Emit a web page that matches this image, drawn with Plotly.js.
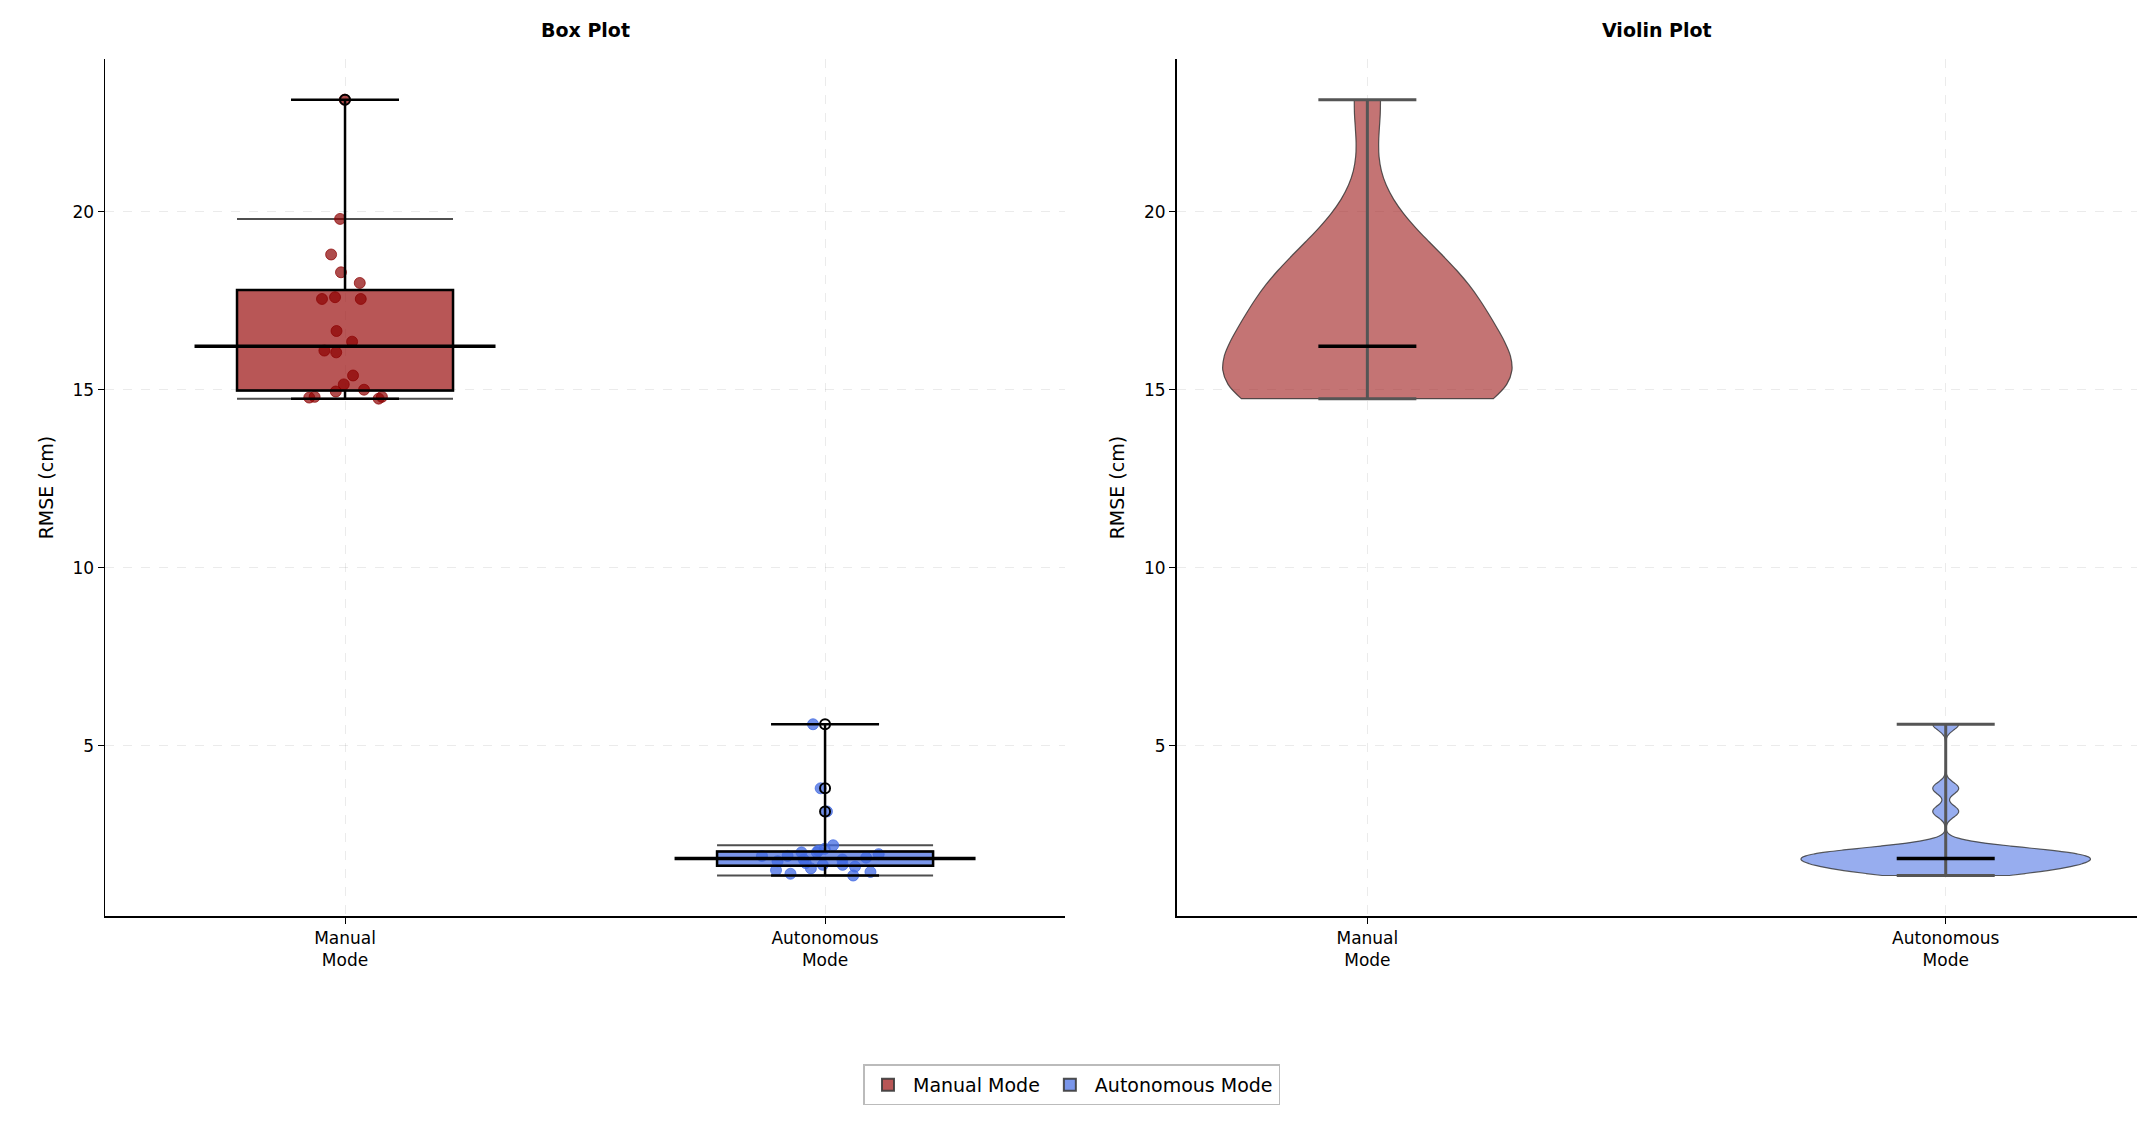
<!DOCTYPE html>
<html>
<head>
<meta charset="utf-8">
<script src="https://cdn.plot.ly/plotly-3.0.1.min.js"></script>
<style>html,body{margin:0;padding:0;background:#fff}#graph{width:2143px;height:1130px}</style>
</head>
<body>
<div id="graph"></div>
<script>
// RMSE per trial for each driving mode.
const categories = ["Manual<br>Mode", "Autonomous<br>Mode"];
const legendNames = ["Manual Mode", "Autonomous Mode"];

const manualRmse = [23.15, 19.8, 18.8, 18.3, 18.0, 17.6, 17.55, 17.55, 16.65, 16.35,
  16.1, 16.05, 15.4, 15.15, 15.0, 14.95, 14.8, 14.8, 14.78, 14.75];
const autoRmse = [5.6, 3.8, 3.15, 2.2, 2.1, 2.05, 2.0, 2.0, 1.95, 1.9, 1.9, 1.85,
  1.8, 1.8, 1.75, 1.7, 1.65, 1.65, 1.6, 1.55, 1.5, 1.45, 1.4, 1.35];

const boxFill = ["rgba(160,30,30,0.75)", "rgba(65,105,225,0.7)"];
const pointColor = ["rgba(139,0,0,0.7)", "rgba(65,105,225,0.75)"];
const violinFill = ["rgba(165,42,42,0.65)", "rgba(65,105,225,0.55)"];

const series = [manualRmse, autoRmse];
const FONT = "DejaVu Sans, sans-serif";

function median(arr) {
  const s = [...arr].sort((a, b) => a - b);
  const m = Math.floor(s.length / 2);
  return s.length % 2 ? s[m] : (s[m - 1] + s[m]) / 2;
}

const traces = [];

series.forEach((vals, i) => {
  const xs = vals.map(() => categories[i]);
  // box with jittered points
  traces.push({
    type: "box", x: xs, y: vals, xaxis: "x", yaxis: "y",
    name: legendNames[i], legendgroup: legendNames[i],
    fillcolor: boxFill[i], line: { color: "rgba(60,60,60,0.9)", width: 2 },
    whiskerwidth: 1, width: 0.45,
    boxpoints: "all", jitter: 0.6, pointpos: 0,
    marker: { color: pointColor[i], size: 11, line: { color: pointColor[i], width: 1 } },
    hoveron: "points"
  });
  // outliers as open circles on the centre line
  traces.push({
    type: "box", x: xs, y: vals, xaxis: "x", yaxis: "y",
    showlegend: false, legendgroup: legendNames[i],
    fillcolor: "rgba(0,0,0,0)", line: { color: "rgba(0,0,0,0)", width: 0 },
    width: 0.45, boxpoints: "outliers",
    marker: { symbol: "circle-open", color: "black", size: 10, line: { width: 2 } }
  });
  // median line drawn in black on the box
  traces.push({
    type: "scatter", mode: "markers", x: [categories[i]], y: [median(vals)],
    xaxis: "x", yaxis: "y", showlegend: false, hoverinfo: "skip",
    marker: { symbol: "line-ew", size: 215, line: { color: "black", width: 3.5 } }
  });
  // whisker caps in black
  traces.push({
    type: "box", x: xs, y: vals, xaxis: "x", yaxis: "y",
    showlegend: false, fillcolor: "rgba(0,0,0,0)",
    line: { color: "black", width: 2.5 }, whiskerwidth: 0.5, width: 0.45,
    boxpoints: false, hoverinfo: "skip", opacity: 1,
    marker: { opacity: 0 }
  });

  // violin
  traces.push({
    type: "violin", x: xs, y: vals, xaxis: "x2", yaxis: "y2",
    showlegend: false, fillcolor: violinFill[i],
    line: { color: "rgba(50,50,50,0.8)", width: 1.2 },
    spanmode: "hard", points: false, width: 0.5,
    box: { visible: false }, meanline: { visible: false }, hoverinfo: "skip"
  });
  const lo = Math.min(...vals), hi = Math.max(...vals);
  traces.push({
    type: "scatter", mode: "lines+markers", x: [categories[i], categories[i]], y: [lo, hi],
    xaxis: "x2", yaxis: "y2", showlegend: false, hoverinfo: "skip",
    line: { color: "#555", width: 3 },
    marker: { symbol: "line-ew", size: 70, line: { color: "#555", width: 3 } }
  });
  traces.push({
    type: "scatter", mode: "markers", x: [categories[i]], y: [median(vals)],
    xaxis: "x2", yaxis: "y2", showlegend: false, hoverinfo: "skip",
    marker: { symbol: "line-ew", size: 70, line: { color: "black", width: 3.5 } }
  });
});

const axisCommon = {
  showline: true, linecolor: "black", linewidth: 1.5, mirror: false,
  ticks: "outside", tickcolor: "black", ticklen: 6,
  tickfont: { size: 17, family: FONT, color: "black" },
  showgrid: true, gridcolor: "rgba(0,0,0,0.08)", griddash: "dash", zeroline: false
};

const layout = {
  width: 2143, height: 1130,
  paper_bgcolor: "white", plot_bgcolor: "white",
  font: { family: FONT, color: "black" },
  boxmode: "overlay", violinmode: "overlay",
  margin: { l: 0, r: 0, t: 0, b: 0 },
  xaxis: Object.assign({}, axisCommon, {
    domain: [0.049, 0.497], anchor: "y", type: "category",
    categoryorder: "array", categoryarray: categories, range: [-0.5, 1.5]
  }),
  yaxis: Object.assign({}, axisCommon, {
    domain: [0.189, 0.948], anchor: "x", range: [0.2, 24.3],
    tickvals: [5, 10, 15, 20],
    title: { text: "RMSE (cm)", font: { size: 19, family: FONT }, standoff: 14 }
  }),
  xaxis2: Object.assign({}, axisCommon, {
    domain: [0.549, 0.997], anchor: "y2", type: "category",
    categoryorder: "array", categoryarray: categories, range: [-0.33, 1.33]
  }),
  yaxis2: Object.assign({}, axisCommon, {
    domain: [0.189, 0.948], anchor: "x2", range: [0.2, 24.3],
    tickvals: [5, 10, 15, 20],
    title: { text: "RMSE (cm)", font: { size: 19, family: FONT }, standoff: 14 }
  }),
  annotations: [
    { text: "<b>Box Plot</b>", xref: "paper", yref: "paper", x: 0.273, y: 0.962,
      xanchor: "center", yanchor: "bottom", showarrow: false, font: { size: 19, family: FONT } },
    { text: "<b>Violin Plot</b>", xref: "paper", yref: "paper", x: 0.773, y: 0.962,
      xanchor: "center", yanchor: "bottom", showarrow: false, font: { size: 19, family: FONT } }
  ],
  legend: {
    orientation: "h", x: 0.5, y: 0.04, xanchor: "center", yanchor: "middle",
    bordercolor: "#bbb", borderwidth: 1.5, bgcolor: "white",
    font: { size: 19, family: FONT }, itemwidth: 40
  },
  showlegend: true
};

Plotly.newPlot("graph", traces, layout, { staticPlot: true });
</script>
</body>
</html>
